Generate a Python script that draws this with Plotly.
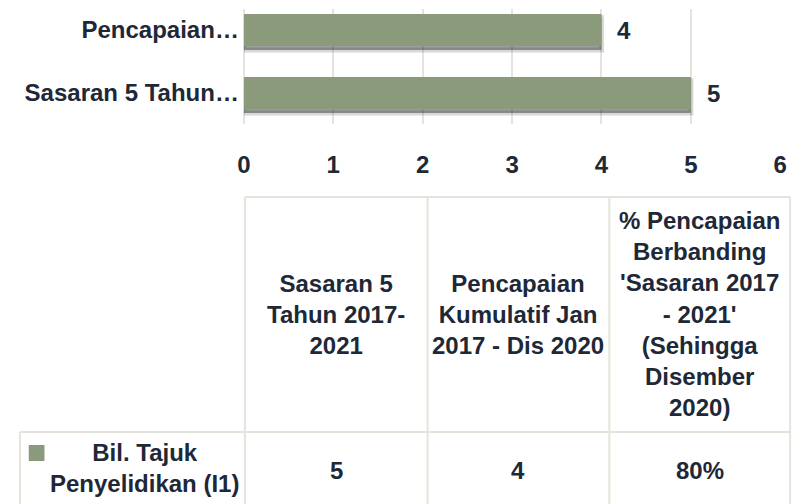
import plotly.graph_objects as go

# ---- data ----
categories = ["Sasaran 5 Tahun…", "Pencapaian…"]          # bottom -> top
values = [5, 4]
table_headers = ["Sasaran 5<br>Tahun 2017-<br>2021",
                 "Pencapaian<br>Kumulatif Jan<br>2017 - Dis 2020",
                 "% Pencapaian<br>Berbanding<br>'Sasaran 2017<br>- 2021'<br>(Sehingga<br>Disember<br>2020)"]
table_row_label = "Bil. Tajuk<br>Penyelidikan (I1)"
table_values = ["5", "4", "80%"]
x_ticks = [0, 1, 2, 3, 4, 5, 6]

OFF = 8  # default page body margin
W, H = 802 - OFF, 504 - OFF
FONT = "Liberation Sans, Arial, sans-serif"
TXT = "#1e2836"
BAR = "#8a9a7a"
GRID = "#e4e4dc"

def px(x):
    return (x - OFF) / W

def py(y):
    return 1 - (y - OFF) / H

fig = go.Figure()

# soft shadow under bars
fig.add_trace(go.Bar(
    y=categories, x=values, orientation="h",
    width=0.51, offset=-0.255 - 0.06,
    marker=dict(color="rgba(40,40,40,0.45)", line=dict(color="rgba(40,40,40,0.18)", width=5)),
    hoverinfo="skip", showlegend=False,
))
fig.add_trace(go.Bar(
    y=categories, x=values, orientation="h",
    width=0.51, offset=-0.255,
    marker=dict(color=BAR, line=dict(width=0)),
    name="Bil. Tajuk Penyelidikan (I1)", showlegend=False,
))

# value labels
for c, v in zip(categories, values):
    fig.add_annotation(x=v, y=c, xref="x", yref="y", text=f"<b>{v}</b>",
                       showarrow=False, xanchor="left", yanchor="middle", xshift=14,
                       font=dict(family=FONT, size=24, color=TXT))

fig.update_layout(
    width=W, height=H,
    margin=dict(l=0, r=0, t=0, b=0),
    paper_bgcolor="white", plot_bgcolor="white",
    xaxis=dict(domain=[px(241), px(787)], range=[0, 6], tickvals=x_ticks,
               ticktext=[f"<b>{t}</b>" for t in x_ticks],
               showgrid=True, gridcolor=GRID, gridwidth=1.5,
               zeroline=True, zerolinecolor=GRID, zerolinewidth=1.5,
               showline=False, ticks="", ticklabelstandoff=24,
               tickfont=dict(family=FONT, size=24, color=TXT), fixedrange=True),
    yaxis=dict(domain=[py(124), py(9)], range=[-0.49, 1.333],
               tickvals=categories, ticktext=[f"<b>{c}</b>" for c in categories],
               showgrid=False, zeroline=False, showline=False, ticks="",
               ticklabelstandoff=4,
               tickfont=dict(family=FONT, size=24, color=TXT), fixedrange=True),
    showlegend=False,
)

# ---- data table ----
col_edges = [242, 428, 613, 797]
header_top, row_top, row_bottom = 197, 432, 520
lw = 2
fig.add_shape(type="line", xref="paper", yref="paper", x0=px(col_edges[0]), x1=px(col_edges[-1]),
              y0=py(header_top), y1=py(header_top), line=dict(color=GRID, width=lw))
for xe in col_edges:
    fig.add_shape(type="line", xref="paper", yref="paper", x0=px(xe), x1=px(xe),
                  y0=py(header_top), y1=py(row_bottom), line=dict(color=GRID, width=lw))
fig.add_shape(type="line", xref="paper", yref="paper", x0=px(13), x1=px(col_edges[-1]),
              y0=py(row_top), y1=py(row_top), line=dict(color=GRID, width=lw))
fig.add_shape(type="line", xref="paper", yref="paper", x0=px(13), x1=px(13),
              y0=py(row_top), y1=py(row_bottom), line=dict(color=GRID, width=lw))

# legend key
fig.add_shape(type="rect", xref="paper", yref="paper", x0=px(22), x1=px(38),
              y0=py(461), y1=py(445), line=dict(width=0), fillcolor=BAR)

for i, (h, v) in enumerate(zip(table_headers, table_values)):
    cx = (col_edges[i] + col_edges[i + 1]) / 2
    fig.add_annotation(x=px(cx), y=py(314), xref="paper", yref="paper",
                       text=f"<b>{h}</b>", showarrow=False, align="center",
                       xanchor="center", yanchor="middle",
                       font=dict(family=FONT, size=24, color=TXT))
    fig.add_annotation(x=px(cx), y=py(470), xref="paper", yref="paper",
                       text=f"<b>{v}</b>", showarrow=False, align="center",
                       xanchor="center", yanchor="middle",
                       font=dict(family=FONT, size=24, color=TXT))

fig.add_annotation(x=px(140), y=py(468), xref="paper", yref="paper",
                   text=f"<b>{table_row_label}</b>", showarrow=False, align="center",
                   xanchor="center", yanchor="middle",
                   font=dict(family=FONT, size=24, color=TXT))

fig.write_html("out.html")
